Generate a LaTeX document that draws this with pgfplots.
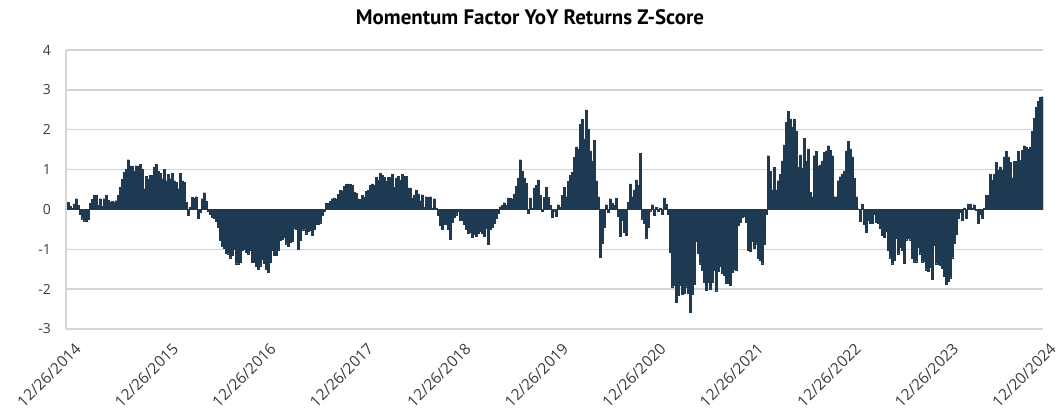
\documentclass[border=0pt]{standalone}
\usepackage{fontspec}
\setmainfont{Open Sans}
\newfontfamily\titlefont{PT Sans}
\usepackage{pgfplots}
\pgfplotsset{compat=1.18}
\definecolor{barc}{RGB}{30,58,82}
\definecolor{gridc}{RGB}{212,212,212}
\definecolor{txtc}{RGB}{60,60,60}
\begin{document}
\begin{tikzpicture}
\begin{axis}[
  scale only axis, width=977bp, height=279bp,
  xmin=-1, xmax=487.5, ymin=-3, ymax=4,
  axis x line*=bottom, axis y line*=left,
  x axis line style={draw=none},
  y axis line style={draw=gridc, line width=1.3bp},
  ymajorgrids, grid style={draw=gridc, line width=1.3bp},
  major tick length=0pt,
  ytick={-3,...,4}, yticklabels={-3,-2,-1,0,1,2,3,4},
  yticklabel style={font=\fontsize{14}{16}\selectfont, text=txtc, anchor=east, inner sep=0pt, xshift=-15bp},
  xtick={-0.53,48.22,96.97,145.72,194.47,243.22,291.97,340.72,389.47,438.22,486.97},
  xticklabels={12/26/2014,12/26/2015,12/26/2016,12/26/2017,12/26/2018,12/26/2019,12/26/2020,12/26/2021,12/26/2022,12/26/2023,12/20/2024},
  xticklabel style={font=\fontsize{15.5}{17}\selectfont, text=txtc, xshift=7bp, yshift=-13bp, rotate=45, anchor=north east, inner sep=0pt},
]
\coordinate (bl) at (rel axis cs:0,0);
\coordinate (tr) at (rel axis cs:1,1);
\addplot[ybar, bar width=1, bar shift=0pt, fill=barc, draw=barc, line width=0.15bp] coordinates {
(0,0.18)(1,0.09)(2,0.03)(3,0.14)(4,0.27)(5,0.10)(6,-0.12)(7,-0.23)(8,-0.28)(9,-0.30)
(10,-0.25)(11,0.15)(12,0.25)(13,0.35)(14,0.35)(15,0.10)(16,0.27)(17,0.08)(18,0.27)(19,0.35)
(20,0.24)(21,0.18)(22,0.20)(23,0.18)(24,0.22)(25,0.35)(26,0.55)(27,0.75)(28,0.93)(29,1.00)
(30,1.25)(31,1.10)(32,1.08)(33,0.96)(34,1.10)(35,1.08)(36,1.13)(37,1.00)(38,0.52)(39,0.83)
(40,0.75)(41,0.85)(42,0.85)(43,1.06)(44,1.13)(45,0.96)(46,0.90)(47,0.77)(48,1.00)(49,0.72)
(50,0.88)(51,0.77)(52,0.90)(53,0.72)(54,0.68)(55,0.52)(56,0.90)(57,0.72)(58,0.68)(59,0.18)
(60,-0.15)(61,0.06)(62,0.30)(63,0.28)(64,0.32)(65,-0.22)(66,-0.07)(67,0.27)(68,0.42)(69,0.20)
(70,-0.04)(71,-0.12)(72,-0.20)(73,-0.22)(74,-0.30)(75,-0.45)(76,-0.78)(77,-0.92)(78,-0.97)(79,-1.10)
(80,-1.11)(81,-1.21)(82,-1.15)(83,-0.99)(84,-1.36)(85,-1.36)(86,-1.32)(87,-1.03)(88,-0.99)(89,-1.07)
(90,-1.11)(91,-1.03)(92,-1.32)(93,-1.32)(94,-1.43)(95,-1.49)(96,-1.41)(97,-1.24)(98,-1.35)(99,-1.49)
(100,-1.57)(101,-1.32)(102,-1.03)(103,-1.15)(104,-1.15)(105,-1.03)(106,-0.78)(107,-0.74)(108,-0.69)(109,-0.86)
(110,-0.93)(111,-0.82)(112,-0.80)(113,-0.46)(114,-0.49)(115,-0.99)(116,-0.78)(117,-0.51)(118,-0.51)(119,-0.61)
(120,-0.55)(121,-0.53)(122,-0.65)(123,-0.49)(124,-0.36)(125,-0.36)(126,-0.33)(127,-0.15)(128,-0.05)(129,0.16)
(130,0.16)(131,0.21)(132,0.27)(133,0.29)(134,0.27)(135,0.38)(136,0.49)(137,0.47)(138,0.58)(139,0.63)
(140,0.64)(141,0.63)(142,0.60)(143,0.44)(144,0.40)(145,0.27)(146,0.25)(147,0.35)(148,0.31)(149,0.46)
(150,0.48)(151,0.60)(152,0.64)(153,0.60)(154,0.81)(155,0.73)(156,0.92)(157,0.85)(158,0.80)(159,0.71)
(160,0.81)(161,0.81)(162,0.88)(163,0.56)(164,0.79)(165,0.83)(166,0.74)(167,0.88)(168,0.83)(169,0.83)
(170,0.54)(171,0.54)(172,0.29)(173,0.35)(174,0.49)(175,0.39)(176,0.22)(177,0.37)(178,0.06)(179,0.32)
(180,0.31)(181,0.32)(182,0.04)(183,0.27)(184,0.04)(185,-0.15)(186,-0.40)(187,-0.50)(188,-0.37)(189,-0.37)
(190,-0.50)(191,-0.74)(192,-0.32)(193,-0.19)(194,-0.13)(195,-0.04)(196,-0.26)(197,-0.26)(198,-0.37)(199,-0.50)
(200,-0.59)(201,-0.57)(202,-0.69)(203,-0.63)(204,-0.67)(205,-0.59)(206,-0.54)(207,-0.59)(208,-0.67)(209,-0.46)
(210,-0.87)(211,-0.50)(212,-0.44)(213,-0.34)(214,-0.22)(215,-0.09)(216,0.07)(217,0.10)(218,0.17)(219,0.10)
(220,0.29)(221,0.29)(222,0.27)(223,0.39)(224,0.58)(225,0.79)(226,1.25)(227,0.97)(228,0.79)(229,0.66)
(230,-0.09)(231,0.29)(232,0.04)(233,0.54)(234,0.60)(235,0.74)(236,0.35)(237,-0.04)(238,0.31)(239,0.56)
(240,0.31)(241,0.10)(242,-0.19)(243,-0.03)(244,-0.17)(245,0.12)(246,0.06)(247,0.35)(248,0.56)(249,0.32)
(250,0.71)(251,0.85)(252,0.93)(253,1.31)(254,1.57)(255,1.52)(256,2.14)(257,2.27)(258,1.77)(259,2.50)
(260,2.02)(261,1.47)(262,1.22)(263,1.74)(264,0.72)(265,0.32)(266,-1.19)(267,-0.84)(268,-0.44)(269,0.12)
(270,-0.07)(271,0.27)(272,0.16)(273,0.10)(274,0.29)(275,-0.17)(276,-0.67)(277,-0.26)(278,-0.57)(279,-0.65)
(280,0.18)(281,0.64)(282,0.32)(283,0.49)(284,0.74)(285,0.60)(286,1.41)(287,-0.23)(288,-0.34)(289,-0.71)
(290,-0.44)(291,-0.03)(292,0.12)(293,-0.15)(294,0.06)(295,-0.04)(296,0.04)(297,-0.12)(298,0.29)(299,0.14)
(300,-0.12)(301,-1.07)(302,-1.94)(303,-1.90)(304,-2.32)(305,-2.15)(306,-1.90)(307,-2.12)(308,-2.10)(309,-1.94)
(310,-2.10)(311,-2.57)(312,-2.12)(313,-1.87)(314,-0.79)(315,-1.09)(316,-1.36)(317,-1.52)(318,-1.82)(319,-2.02)
(320,-1.82)(321,-2.00)(322,-1.82)(323,-1.52)(324,-2.04)(325,-1.55)(326,-1.42)(327,-1.59)(328,-1.64)(329,-1.84)
(330,-1.86)(331,-1.90)(332,-1.57)(333,-1.50)(334,-1.52)(335,-0.40)(336,-0.32)(337,-0.19)(338,-0.17)(339,-0.32)
(340,-1.02)(341,-1.04)(342,-0.79)(343,-0.98)(344,-0.86)(345,-1.23)(346,-1.27)(347,-1.36)(348,-0.88)(349,-0.12)
(350,1.35)(351,0.96)(352,0.49)(353,1.06)(354,0.49)(355,0.72)(356,0.88)(357,1.22)(358,1.62)(359,2.18)
(360,2.46)(361,2.27)(362,2.07)(363,2.27)(364,1.97)(365,1.06)(366,1.37)(367,1.04)(368,1.79)(369,1.21)
(370,1.52)(371,0.43)(372,0.32)(373,1.35)(374,1.46)(375,1.10)(376,1.12)(377,1.22)(378,1.43)(379,1.47)
(380,1.60)(381,1.49)(382,1.35)(383,0.32)(384,0.32)(385,0.72)(386,0.82)(387,0.89)(388,0.97)(389,1.47)
(390,1.71)(391,1.52)(392,1.32)(393,0.79)(394,0.32)(395,0.02)(396,-0.29)(397,0.14)(398,-0.37)(399,-0.57)
(400,-0.26)(401,-0.34)(402,-0.34)(403,-0.12)(404,-0.32)(405,-0.34)(406,-0.46)(407,-0.65)(408,-0.69)(409,-0.54)
(410,-1.02)(411,-1.21)(412,-1.36)(413,-1.27)(414,-0.73)(415,-1.11)(416,-0.94)(417,-1.02)(418,-1.34)(419,-0.76)
(420,-0.73)(421,-0.76)(422,-1.23)(423,-1.31)(424,-1.31)(425,-0.94)(426,-1.11)(427,-1.31)(428,-1.29)(429,-1.51)
(430,-1.54)(431,-1.44)(432,-1.76)(433,-0.90)(434,-1.36)(435,-1.38)(436,-1.40)(437,-1.48)(438,-1.67)(439,-1.87)
(440,-1.79)(441,-1.71)(442,-1.21)(443,-0.84)(444,-0.63)(445,-0.21)(446,-0.07)(447,-0.27)(448,0.04)(449,-0.21)
(450,0.14)(451,0.14)(452,0.04)(453,0.12)(454,-0.02)(455,-0.34)(456,-0.12)(457,-0.21)(458,0.04)(459,0.35)
(460,0.35)(461,0.88)(462,0.74)(463,0.88)(464,1.18)(465,0.99)(466,1.07)(467,0.99)(468,1.32)(469,1.47)
(470,1.32)(471,1.18)(472,0.79)(473,1.21)(474,1.21)(475,1.46)(476,1.24)(477,1.49)(478,1.60)(479,1.57)
(480,1.52)(481,1.57)(482,1.96)(483,2.29)(484,2.56)(485,2.71)(486,2.81)(487,2.83)
};
\end{axis}
\node[font=\titlefont\bfseries\fontsize{21}{24}\selectfont, text=black] at ([xshift=464bp,yshift=312bp]bl) {Momentum Factor YoY Returns Z-Score};
\pgfresetboundingbox
\path[use as bounding box] ([xshift=-66bp,yshift=-86bp]bl) rectangle ([xshift=16bp,yshift=50bp]tr);
\end{tikzpicture}
\end{document}
